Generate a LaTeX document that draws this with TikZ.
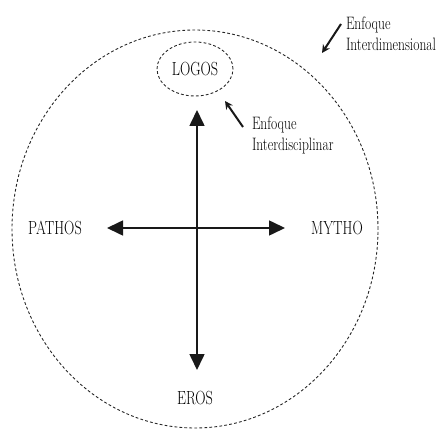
\documentclass[tikz,border=0pt]{standalone}
\usepackage{graphicx}
\usepackage{tikz}
\usetikzlibrary{arrows.meta,shapes.geometric}
\newcommand{\narrowtext}[1]{\scalebox{0.75}[1]{#1}}
\tikzset{
    labelnode/.style = {
        font=\fontsize{19}{20}\selectfont,
        text=black,
        inner sep=0pt,
        outer sep=0mm
    },
    notenode/.style = {
        labelnode,
        anchor=north west,
        font=\fontsize{18}{21}\selectfont
    },
    dashring/.style = {
        ellipse,
        draw=black!85,
        dash pattern=on 2.8pt off 2.2pt,
        line width=0.9pt
    },
    axisarrow/.style = {
        line width=1.6pt,
        draw=black!90,
        fill=black!90,
        {Triangle[length=16pt,width=15pt]}-{Triangle[length=16pt,width=15pt]}
    },
    pointarrow/.style = {
        line width=2pt,
        draw=black!90,
        fill=black!90,
        -{Stealth[length=8pt,width=8pt]}
    }
}
\begin{document}
\begin{tikzpicture}[x=1pt,y=-1pt]
    \useasboundingbox (0,0) rectangle (444,430);
    % outer ring and the LOGOS ring
    \node [dashring, minimum width=366pt, minimum height=398pt] (outer) at (195,229) {};
    \node [dashring, labelnode, minimum width=76pt, minimum height=54pt] (logos) at (195,69) {\narrowtext{LOGOS}};
    % poles
    \node [labelnode] (pathos) at (55,228) {\narrowtext{PATHOS}};
    \node [labelnode] (mytho) at (337,228) {\narrowtext{MYTHO}};
    \node [labelnode] (eros) at (195,398) {\narrowtext{EROS}};
    % axes
    \coordinate (top) at (197,110);
    \coordinate (bottom) at (197,370);
    \coordinate (left) at (107,228);
    \coordinate (right) at (285,228);
    \draw [axisarrow] (top) -- (bottom);
    \draw [axisarrow] (left) -- (right);
    % notes
    \node [notenode] (disc) at (252,115) {\narrowtext{\begin{tabular}{@{}l@{}}Enfoque\\Interdisciplinar\end{tabular}}};
    \node [notenode] (dim) at (346,15) {\narrowtext{\begin{tabular}{@{}l@{}}Enfoque\\Interdimensional\end{tabular}}};
    \coordinate (disctip) at (225,101);
    \coordinate (dimtip) at (322,53);
    \draw [pointarrow] (disc.north west) ++(-9,12) -- (disctip);
    \draw [pointarrow] (dim.north west) ++(-5,9) -- (dimtip);
\end{tikzpicture}
\end{document}
